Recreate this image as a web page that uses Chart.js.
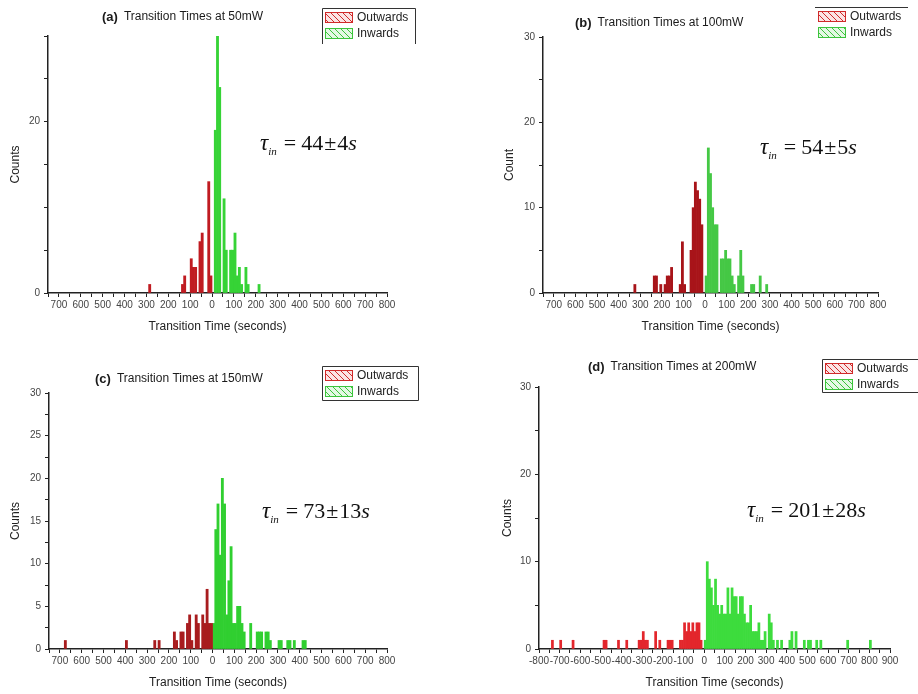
<!DOCTYPE html>
<html><head><meta charset="utf-8">
<script src="https://cdn.jsdelivr.net/npm/chart.js@4.4.1/dist/chart.umd.min.js"></script>
<style>
html,body{margin:0;padding:0;background:#fff;}
#wrap{position:relative;width:918px;height:694px;overflow:hidden;background:#fff;}
canvas{position:absolute;left:0;top:0;}
</style></head><body><div id="wrap">
<canvas id="cA" width="918" height="694"></canvas>
<canvas id="cB" width="918" height="694"></canvas>
<canvas id="cC" width="918" height="694"></canvas>
<canvas id="cD" width="918" height="694"></canvas>
</div>
<script>
// ---------- DATA (bin centre in seconds, counts) ----------
// (a) 50 mW
const outA_t = [-285, -135, -125, -95, -85, -75, -55, -45, -15, -5];
const outA_n = [1, 1, 2, 4, 3, 3, 6, 7, 13, 2];
const inA_t  = [15, 25, 35, 55, 65, 85, 95, 105, 115, 125, 135, 155, 165, 215];
const inA_n  = [19, 30, 24, 11, 5, 5, 5, 7, 2, 3, 1, 3, 1, 1];
// (b) 100 mW
const outB_t = [-325, -235, -225, -205, -185, -175, -165, -155, -115, -105, -95, -65, -55, -45, -35, -25, -15];
const outB_n = [1, 2, 2, 1, 1, 2, 2, 3, 1, 6, 1, 5, 10, 13, 12, 11, 8];
const inB_t  = [5, 15, 25, 35, 45, 55, 75, 85, 95, 105, 115, 125, 135, 155, 165, 175, 215, 225, 255, 285];
const inB_n  = [2, 17, 14, 10, 8, 8, 4, 4, 5, 4, 4, 2, 1, 2, 5, 2, 1, 1, 2, 1];
// (c) 150 mW
const outC_t = [-675, -395, -265, -245, -175, -165, -145, -135, -115, -105, -95, -75, -65, -45, -35, -25, -15, -5];
const outC_n = [1, 1, 1, 1, 2, 1, 2, 2, 3, 4, 1, 4, 3, 4, 3, 7, 3, 3];
const inC_t  = [5, 15, 25, 35, 45, 55, 65, 75, 85, 95, 105, 115, 125, 135, 145, 175, 205, 215, 225, 245, 255, 265, 305, 315, 345, 355, 375, 415, 425];
const inC_n  = [3, 14, 17, 11, 20, 17, 4, 8, 12, 3, 3, 5, 5, 3, 2, 3, 2, 2, 2, 2, 2, 1, 1, 1, 1, 1, 1, 1, 1];
// (d) 200 mW
const outD_t = [-735, -695, -635, -485, -475, -415, -375, -315, -305, -295, -285, -275, -235, -215, -175, -165, -155, -115, -105, -95, -85, -75, -65, -55, -45, -35, -25, -15];
const outD_n = [1, 1, 1, 1, 1, 1, 1, 1, 1, 2, 1, 1, 2, 1, 1, 1, 1, 1, 1, 3, 2, 3, 2, 3, 2, 3, 3, 1];
const inD_t  = [5, 15, 25, 35, 45, 55, 65, 75, 85, 95, 105, 115, 125, 135, 145, 155, 165, 175, 185, 195, 205, 215, 225, 235, 245, 255, 265, 275, 285, 295, 315, 325, 335, 355, 375, 415, 425, 445, 485, 505, 515, 545, 565, 695, 805];
const inD_n  = [1, 10, 8, 7, 5, 8, 5, 4, 5, 4, 4, 7, 4, 7, 6, 6, 4, 6, 6, 4, 3, 3, 5, 2, 2, 2, 3, 1, 1, 2, 4, 3, 1, 1, 1, 1, 2, 2, 1, 1, 1, 1, 1, 1, 1];

// tick labels shown
const xLabelsABC = [-700, -600, -500, -400, -300, -200, -100, 0, 100, 200, 300, 400, 500, 600, 700, 800];
const xLabelsD   = [-800, -700, -600, -500, -400, -300, -200, -100, 0, 100, 200, 300, 400, 500, 600, 700, 800, 900];
const yLabelsA = [0, 20];
const yLabelsB = [0, 10, 20, 30];
const yLabelsC = [0, 5, 10, 15, 20, 25, 30];
const yLabelsD = [0, 10, 20, 30];

const titles = ['Transition Times at 50mW', 'Transition Times at 100mW', 'Transition Times at 150mW', 'Transition Times at 200mW'];
const tauVals = ['44', '54', '73', '201'];
const tauErrs = ['4', '5', '13', '28'];

// ---------- LAYOUT ----------
const SANS = '"Liberation Sans", Arial, sans-serif';
const SERIF = '"Liberation Serif", "Times New Roman", serif';
Chart.defaults.font.family = SANS;

const panels = [
  {id:'cA', letter:'(a)', title:titles[0], yTitle:'Counts', tau:tauVals[0], err:tauErrs[0],
   outT:outA_t, outN:outA_n, inT:inA_t, inN:inA_n, xMin:-750, xMax:800, yStep:5,
   xLabels:xLabelsABC, yLabels:yLabelsA, signed:false,
   area:{l:48, r:387, t:36, b:293}, yTitleX:16, xTitleY:327, titleX:102, titleY:17,
   legend:{x:322, y:8, w:93, h:36, frame:'open'}, tauX:260, tauY:150,
   outColor:'#c01b21', inColor:'#36d336'},
  {id:'cB', letter:'(b)', title:titles[1], yTitle:'Count', tau:tauVals[1], err:tauErrs[1],
   outT:outB_t, outN:outB_n, inT:inB_t, inN:inB_n, xMin:-750, xMax:800, yStep:5,
   xLabels:xLabelsABC, yLabels:yLabelsB, signed:false,
   area:{l:543, r:878, t:37, b:293}, yTitleX:510, xTitleY:327, titleX:575, titleY:23,
   legend:{x:815, y:7, w:93, h:36, frame:'top'}, tauX:760, tauY:154,
   outColor:'#a81419', inColor:'#45c845'},
  {id:'cC', letter:'(c)', title:titles[2], yTitle:'Counts', tau:tauVals[2], err:tauErrs[2],
   outT:outC_t, outN:outC_n, inT:inC_t, inN:inC_n, xMin:-750, xMax:800, yStep:2.5,
   xLabels:xLabelsABC, yLabels:yLabelsC, signed:false,
   area:{l:49, r:387, t:393, b:649}, yTitleX:16, xTitleY:683, titleX:95, titleY:379,
   legend:{x:322, y:366, w:96, h:34, frame:'box'}, tauX:262, tauY:518,
   outColor:'#a81c1e', inColor:'#30cf30'},
  {id:'cD', letter:'(d)', title:titles[3], yTitle:'Counts', tau:tauVals[3], err:tauErrs[3],
   outT:outD_t, outN:outD_n, inT:inD_t, inN:inD_n, xMin:-800, xMax:900, yStep:5,
   xLabels:xLabelsD, yLabels:yLabelsD, signed:true,
   area:{l:539, r:890, t:387, b:649}, yTitleX:508, xTitleY:683, titleX:588, titleY:367,
   legend:{x:822, y:359, w:96, h:33, frame:'box'}, tauX:747, tauY:517,
   outColor:'#e3262c', inColor:'#3ddc3d'}
];

function hatch(ctx, line, bg) {
  const c = document.createElement('canvas'); c.width = 6; c.height = 6;
  const g = c.getContext('2d');
  g.fillStyle = bg; g.fillRect(0, 0, 6, 6);
  g.strokeStyle = line; g.lineWidth = 1;
  g.beginPath();
  g.moveTo(0, 0); g.lineTo(6, 6);
  g.moveTo(-3, 3); g.lineTo(3, 9);
  g.moveTo(3, -3); g.lineTo(9, 3);
  g.stroke();
  return ctx.createPattern(c, 'repeat');
}

const panelDecor = {
  id: 'panelDecor',
  afterDraw(chart, args, o) {
    const ctx = chart.ctx;
    ctx.save();
    // title
    ctx.textBaseline = 'middle'; ctx.textAlign = 'left'; ctx.fillStyle = '#1a1a1a';
    ctx.font = 'bold 13px ' + SANS;
    ctx.fillText(o.letter, o.titleX, o.titleY);
    const w = ctx.measureText(o.letter).width;
    ctx.font = '12px ' + SANS;
    ctx.fillText(o.title, o.titleX + w + 6, o.titleY);
    // tau annotation
    ctx.textBaseline = 'alphabetic'; ctx.fillStyle = '#111';
    let x = o.tauX;
    const put = (txt, font, dy, gap) => {
      ctx.font = font; ctx.fillText(txt, x, o.tauY + dy);
      x += ctx.measureText(txt).width + gap;
    };
    put('τ', 'italic 23px ' + SERIF, 0, 0);
    put('in', 'italic 11px ' + SERIF, 5, 7);
    put('=', '22px ' + SERIF, 0, 5);
    put(o.tau, '22px ' + SERIF, 0, 1);
    put('±', '22px ' + SERIF, 0, 1);
    put(o.err, '22px ' + SERIF, 0, 0);
    put('s', 'italic 22px ' + SERIF, 0, 0);
    // legend
    const L = o.legend;
    ctx.strokeStyle = '#333'; ctx.lineWidth = 1;
    ctx.beginPath();
    if (L.frame === 'box') { ctx.rect(L.x + 0.5, L.y + 0.5, L.w, L.h); }
    else if (L.frame === 'open') {
      ctx.moveTo(L.x + 0.5, L.y + L.h); ctx.lineTo(L.x + 0.5, L.y + 0.5);
      ctx.lineTo(L.x + L.w + 0.5, L.y + 0.5); ctx.lineTo(L.x + L.w + 0.5, L.y + L.h);
    } else { ctx.moveTo(L.x, L.y + 0.5); ctx.lineTo(L.x + L.w, L.y + 0.5); }
    ctx.stroke();
    chart.data.datasets.forEach((ds, i) => {
      const sy = L.y + 4 + i * 16;
      ctx.fillStyle = hatch(ctx, ds.hatchLine, ds.hatchBg);
      ctx.fillRect(L.x + 3, sy, 28, 11);
      ctx.strokeStyle = ds.hatchLine; ctx.lineWidth = 1;
      ctx.strokeRect(L.x + 3.5, sy + 0.5, 27, 10);
      ctx.fillStyle = '#222'; ctx.font = '12px ' + SANS; ctx.textBaseline = 'middle';
      ctx.fillText(ds.label, L.x + 35, sy + 6);
    });
    ctx.restore();
  }
};

panels.forEach(p => {
  const toXY = (ts, ns) => ts.map((t, i) => ({x: t, y: ns[i]}));
  const padLeft = p.yTitleX - 7.2;
  const padBottom = 694 - p.xTitleY - 7.2;
  const axisCommon = {
    grid: {display: true, drawOnChartArea: false, drawTicks: true, tickLength: 4, tickColor: '#222', tickWidth: 1},
    border: {display: true, color: '#222', width: 1.5}
  };
  new Chart(document.getElementById(p.id), {
    type: 'bar',
    data: {datasets: [
      {label: 'Outwards', data: toXY(p.outT, p.outN), backgroundColor: p.outColor,
       hatchLine: '#d02a2a', hatchBg: '#fbe4e4',
       grouped: false, barPercentage: 1, categoryPercentage: 1, borderWidth: 0},
      {label: 'Inwards', data: toXY(p.inT, p.inN), backgroundColor: p.inColor,
       hatchLine: '#3cc43c', hatchBg: '#e4f8e4',
       grouped: false, barPercentage: 1, categoryPercentage: 1, borderWidth: 0}
    ]},
    options: {
      responsive: false, animation: false, devicePixelRatio: 1,
      layout: {padding: {left: padLeft, right: 918 - p.area.r, top: p.area.t, bottom: padBottom}},
      plugins: {
        legend: {display: false}, tooltip: {enabled: false}, title: {display: false},
        panelDecor: {letter: p.letter, title: p.title, tau: p.tau, err: p.err, titleX: p.titleX, titleY: p.titleY,
                     tauX: p.tauX, tauY: p.tauY, legend: p.legend}
      },
      scales: {
        x: Object.assign({}, axisCommon, {
          type: 'linear', min: p.xMin, max: p.xMax, offset: false,
          afterFit: s => { s.height = p.xTitleY + 7.2 - p.area.b; },
          ticks: {stepSize: 50, autoSkip: false, maxRotation: 0, minRotation: 0, padding: 2,
                  color: '#444', font: {size: 10, family: SANS},
                  callback: v => p.xLabels.includes(v) ? String(p.signed ? v : Math.abs(v)) : ''},
          grid: Object.assign({}, axisCommon.grid, {offset: false}),
          title: {display: true, text: 'Transition Time (seconds)', color: '#222',
                  font: {size: 12, family: SANS}, padding: 0}
        }),
        y: Object.assign({}, axisCommon, {
          min: 0, max: 30,
          afterFit: s => { s.width = p.area.l - padLeft; },
          ticks: {stepSize: p.yStep, autoSkip: false, padding: 4, color: '#444', font: {size: 10, family: SANS},
                  callback: v => p.yLabels.includes(v) ? String(v) : ''},
          title: {display: true, text: p.yTitle, color: '#222', font: {size: 12, family: SANS}, padding: 0}
        })
      }
    },
    plugins: [panelDecor]
  });
});
</script>
</body></html>
